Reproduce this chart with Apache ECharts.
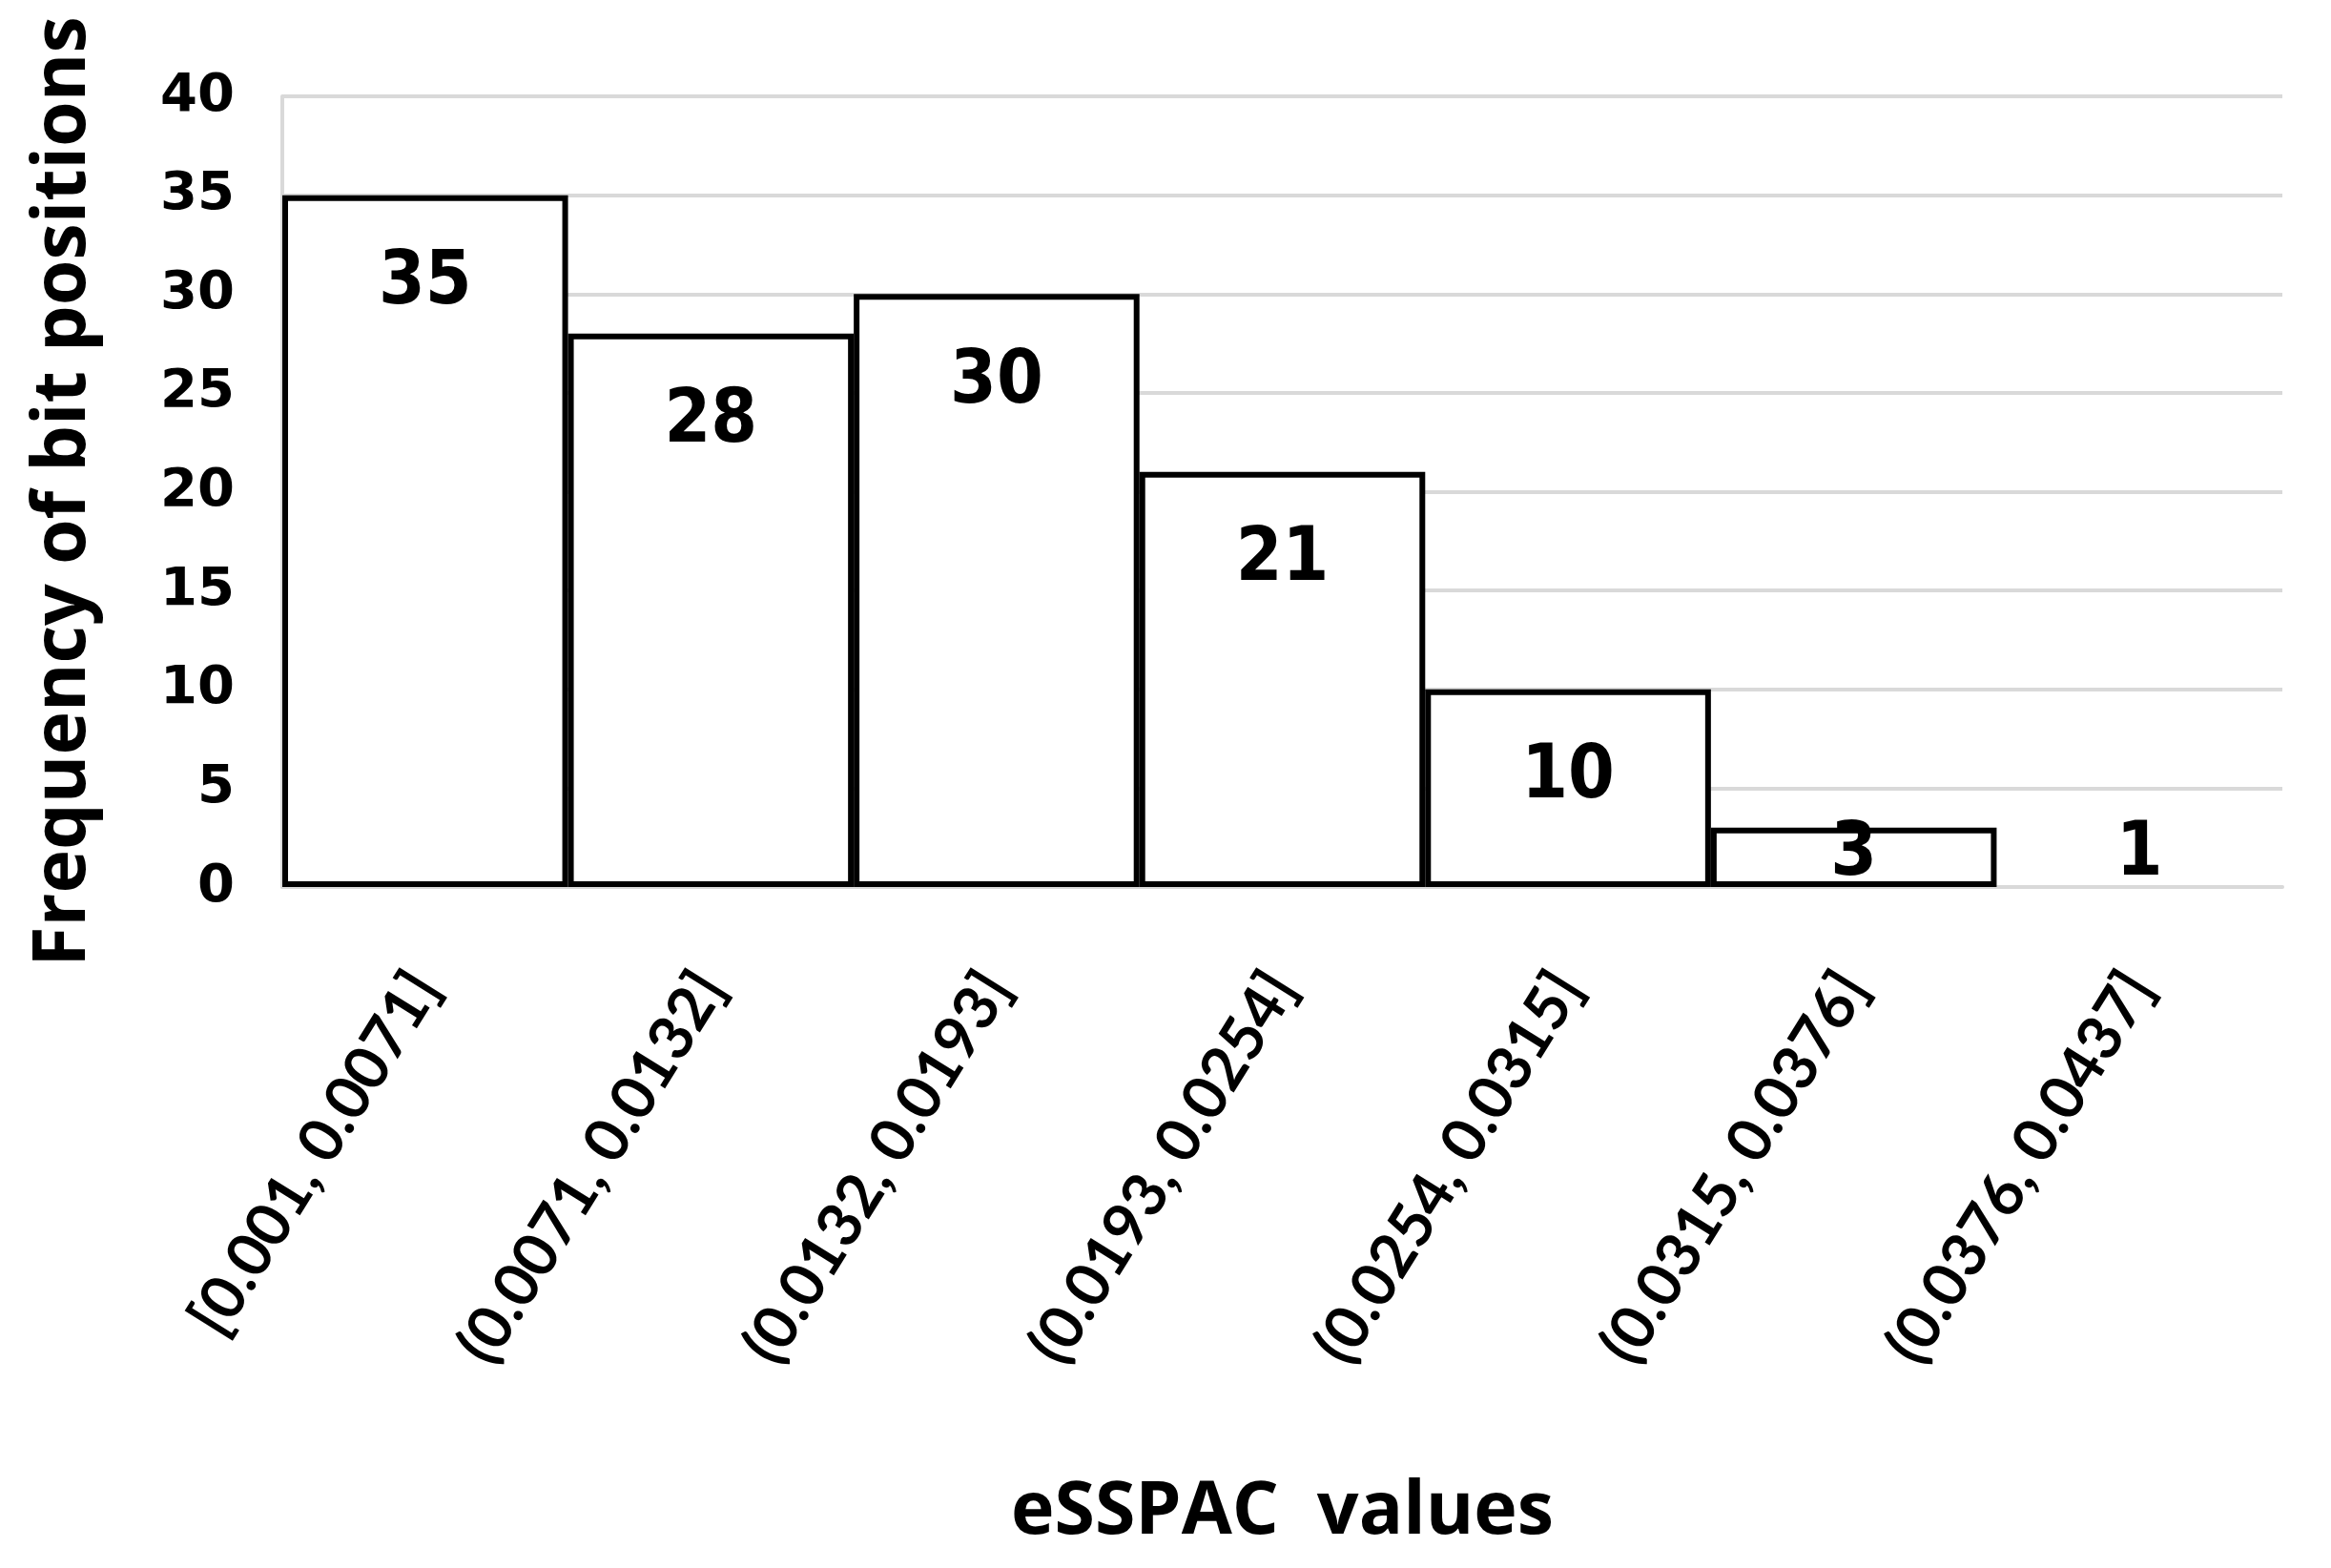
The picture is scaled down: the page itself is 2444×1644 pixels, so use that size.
<!DOCTYPE html>
<html>
<head>
<meta charset="utf-8">
<script src="https://cdn.jsdelivr.net/npm/echarts@6/dist/echarts.min.js"></script>
<style>
  html, body { margin: 0; padding: 0; background: #ffffff; }
  #chart { width: 2444px; height: 1644px; }
</style>
</head>
<body>
<div id="chart"></div>
<script>
const categories = ['[0.001, 0.0071]', '(0.0071, 0.0132]', '(0.0132, 0.0193]', '(0.0193, 0.0254]', '(0.0254, 0.0315]', '(0.0315, 0.0376]', '(0.0376, 0.0437]'];
const frequencies = [35, 28, 30, 21, 10, 3, 1];
const yTitle = 'Frequency of bit positions';
const xTitle = 'eSSPAC  values';

const chart = echarts.init(document.getElementById('chart'), null, { renderer: 'canvas' });

const barData = frequencies.map((v, i) => {
  const item = { value: v };
  if (v < 8) {
    item.label = { position: 'insideBottom', distance: -6 };
  }
  if (i === frequencies.length - 1) {
    item.itemStyle = { color: 'transparent', borderWidth: 0 };
  }
  return item;
});

const option = {
  backgroundColor: '#ffffff',
  animation: false,
  grid: { left: 296, right: 51, top: 101, bottom: 714, outerBoundsMode: 'none', containLabel: false },
  xAxis: {
    type: 'category',
    data: categories,
    boundaryGap: true,
    axisLine: { show: true, lineStyle: { color: '#d9d9d9', width: 4 } },
    axisTick: { show: false },
    axisLabel: {
      rotate: 58, margin: 95, interval: 0,
      color: '#000', fontFamily: 'Lato, "Open Sans", sans-serif', fontWeight: 'bold', fontSize: 64
    },
    name: xTitle,
    nameLocation: 'middle',
    nameGap: 618,
    nameTextStyle: { color: '#000', fontFamily: '"Open Sans", sans-serif', fontWeight: 'bold', fontSize: 77, verticalAlign: 'top' }
  },
  yAxis: {
    type: 'value',
    min: 0, max: 40, interval: 5,
    axisLine: { show: true, lineStyle: { color: '#d9d9d9', width: 4 } },
    axisTick: { show: false },
    splitLine: { show: true, lineStyle: { color: '#d9d9d9', width: 4 } },
    axisLabel: { color: '#000', fontFamily: '"DejaVu Sans", sans-serif', fontWeight: 'bold', fontSize: 56, margin: 50 },
    name: yTitle,
    nameLocation: 'middle',
    nameGap: 190,
    nameTextStyle: { color: '#000', fontFamily: '"Open Sans", sans-serif', fontWeight: 'bold', fontSize: 77 }
  },
  series: [{
    type: 'bar',
    data: barData,
    barCategoryGap: '0%',
    itemStyle: { color: '#ffffff', borderColor: '#000000', borderWidth: 6 },
    label: {
      show: true,
      position: 'insideTop',
      distance: 54,
      color: '#000',
      fontFamily: '"DejaVu Sans Condensed", "DejaVu Sans", sans-serif',
      fontWeight: 'bold',
      fontSize: 78
    }
  }]
};
chart.setOption(option);
</script>
</body>
</html>
